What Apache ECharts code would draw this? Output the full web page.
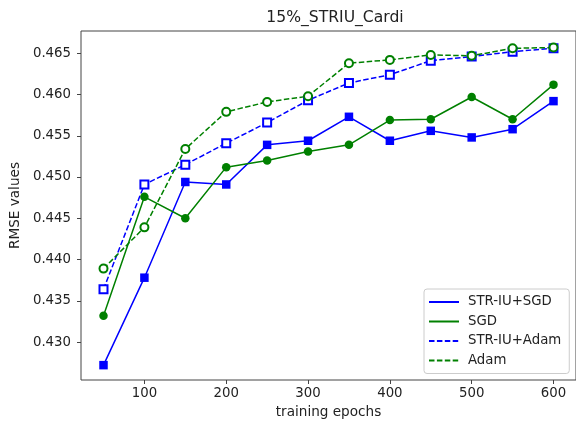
<!DOCTYPE html>
<html>
<head>
<meta charset="utf-8">
<script src="https://cdn.jsdelivr.net/npm/echarts@6/dist/echarts.min.js"></script>
<style>html,body{margin:0;padding:0;background:#fff}#c{width:576px;height:424px}</style>
</head>
<body>
<div id="c"></div>
<script>
const epochs = [50, 100, 150, 200, 250, 300, 350, 400, 450, 500, 550, 600];
const strIuSgd = [0.4272, 0.4378, 0.4494, 0.4491, 0.4539, 0.4544, 0.4573, 0.4544, 0.4556, 0.4548, 0.4558, 0.4592];
const sgd = [0.4332, 0.4476, 0.4450, 0.4512, 0.4520, 0.4531, 0.4539, 0.4569, 0.4570, 0.4597, 0.4570, 0.4612];
const strIuAdam = [0.4364, 0.4491, 0.4515, 0.4541, 0.4566, 0.4593, 0.4614, 0.4624, 0.4641, 0.4646, 0.4652, 0.4656];
const adam = [0.4389, 0.4439, 0.4534, 0.4579, 0.4591, 0.4598, 0.4638, 0.4642, 0.4648, 0.4647, 0.4656, 0.4657];
const xTicks = [100, 200, 300, 400, 500, 600];
const yTicks = [0.430, 0.435, 0.440, 0.445, 0.450, 0.455, 0.460, 0.465];
const seriesNames = ['STR-IU+SGD', 'SGD', 'STR-IU+Adam', 'Adam'];

const BLUE = '#0000ff', GREEN = '#008000';
const font = 'DejaVu Sans';
function pairs(vals) { return epochs.map((e, i) => [e, vals[i]]); }

const chart = echarts.init(document.getElementById('c'), null, {renderer: 'canvas'});
chart.setOption({
  animation: false,
  backgroundColor: '#fff',
  title: {
    text: '15%_STRIU_Cardi', left: 330, top: 5, textAlign: 'center',
    textStyle: {fontFamily: font, fontSize: 15.6, fontWeight: 'normal', color: '#222'}
  },
  grid: {left: 81, right: -3, top: 31, bottom: 44, show: true, borderColor: '#444', borderWidth: 1, backgroundColor: 'transparent'},
  legend: {
    orient: 'vertical', left: 424, top: 289,
    data: seriesNames,
    itemWidth: 30, itemHeight: 14, itemGap: 5.5,
    padding: [6, 8, 6, 4],
    borderColor: '#cccccc', borderWidth: 1, borderRadius: 3,
    backgroundColor: 'rgba(255,255,255,0.8)',
    itemStyle: {opacity: 0},
    textStyle: {fontFamily: font, fontSize: 13.3, color: '#222', lineHeight: 14, padding: [0, 0, 0, 4]}
  },
  xAxis: {
    type: 'value', min: 22.5, max: 627.5,
    name: 'training epochs', nameLocation: 'middle', nameGap: 25,
    nameTextStyle: {fontFamily: font, fontSize: 13.6, color: '#222'},
    axisLine: {show: false},
    axisTick: {show: true, length: 4, lineStyle: {color: '#444'}, customValues: xTicks},
    axisLabel: {fontFamily: font, fontSize: 13.3, color: '#222', margin: 7, customValues: xTicks},
    splitLine: {show: false}
  },
  yAxis: {
    type: 'value', min: 0.4254, max: 0.4677,
    name: 'RMSE values', nameLocation: 'middle', nameGap: 58, nameRotate: 90,
    nameTextStyle: {fontFamily: font, fontSize: 13.6, color: '#222'},
    axisLine: {show: false},
    axisTick: {show: true, length: 4, lineStyle: {color: '#444'}, customValues: yTicks},
    axisLabel: {fontFamily: font, fontSize: 13.3, color: '#222', margin: 10, customValues: yTicks,
      formatter: v => v.toFixed(3)},
    splitLine: {show: false}
  },
  series: [
    {name: seriesNames[0], type: 'line', data: pairs(strIuSgd), symbol: 'rect', symbolSize: 8.5,
     lineStyle: {color: BLUE, width: 1.5}, itemStyle: {color: BLUE}},
    {name: seriesNames[1], type: 'line', data: pairs(sgd), symbol: 'circle', symbolSize: 8.5,
     lineStyle: {color: GREEN, width: 1.5}, itemStyle: {color: GREEN}},
    {name: seriesNames[2], type: 'line', data: pairs(strIuAdam), symbol: 'emptyRect', symbolSize: 8,
     lineStyle: {color: BLUE, width: 1.5, type: [5.5, 2.4]}, itemStyle: {color: BLUE, borderWidth: 1}},
    {name: seriesNames[3], type: 'line', data: pairs(adam), symbol: 'emptyCircle', symbolSize: 8,
     lineStyle: {color: GREEN, width: 1.5, type: [5.5, 2.4]}, itemStyle: {color: GREEN, borderWidth: 1}}
  ]
});
</script>
</body>
</html>
